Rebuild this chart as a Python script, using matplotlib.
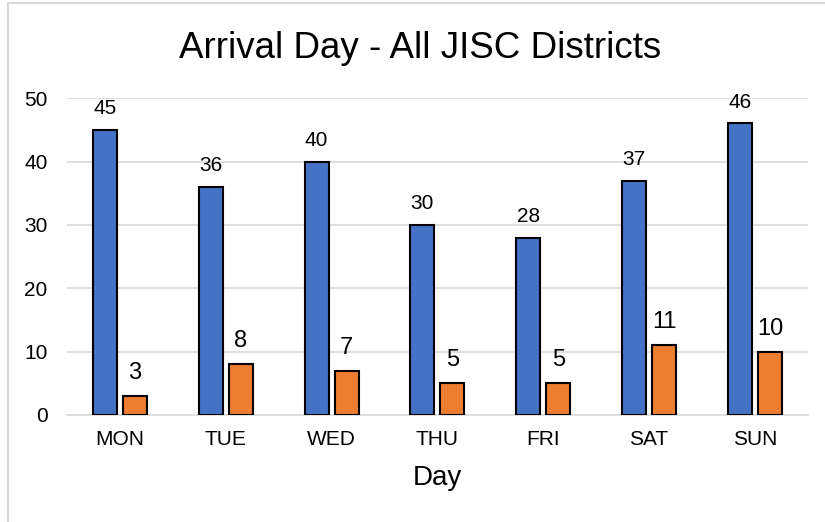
import numpy as np
import matplotlib.pyplot as plt
from matplotlib.lines import Line2D

days = ["MON", "TUE", "WED", "THU", "FRI", "SAT", "SUN"]
series_a = [45, 36, 40, 30, 28, 37, 46]
series_b = [3, 8, 7, 5, 5, 11, 10]


def main():
    plt.rcParams['font.family'] = ['Liberation Sans', 'DejaVu Sans']
    fig = plt.figure(figsize=(8.25, 5.22), dpi=100)
    ax = fig.add_axes([0.0812, 0.205, 0.898, 0.607])
    x = np.arange(len(days))
    w = 0.227
    off = 0.142
    ax.bar(x - off, series_a, w, color="#4472C4", edgecolor="black", linewidth=1.5, zorder=3)
    ax.bar(x + off, series_b, w, color="#ED7D31", edgecolor="black", linewidth=1.5, zorder=3)
    for i in range(len(days)):
        ax.text(x[i] - off, series_a[i] + 1.8, str(series_a[i]), ha="center", va="bottom", fontsize=15)
        ax.text(x[i] + off, series_b[i] + 1.9, str(series_b[i]), ha="center", va="bottom", fontsize=17)
    ax.set_xlim(-0.5, len(days) - 0.5)
    ax.set_ylim(0, 50)
    ax.set_yticks(range(0, 51, 10))
    ax.set_xticks(x)
    ax.set_xticklabels(days)
    ax.tick_params(axis="both", length=0, labelsize=15, pad=11)
    ax.tick_params(axis="y", pad=14)
    ax.grid(axis="y", color="#D9D9D9", linewidth=1.2, zorder=0)
    for s in ["top", "right", "left"]:
        ax.spines[s].set_visible(False)
    ax.spines["bottom"].set_color("#D9D9D9")
    ax.spines["bottom"].set_linewidth(1.2)
    ax.set_xlabel("Day", fontsize=20, labelpad=11)
    fig.text(0.509, 0.908, "Arrival Day - All JISC Districts", ha="center", va="center", fontsize=26.5)
    fig.add_artist(Line2D([8 / 825, 8 / 825], [0, 1 - 3 / 522], color="#D9D9D9", linewidth=1.5))
    fig.add_artist(Line2D([8 / 825, 1], [1 - 3 / 522, 1 - 3 / 522], color="#D9D9D9", linewidth=1.5))
    fig.savefig("out.png", dpi=100)


if __name__ == '__main__':
    main()
